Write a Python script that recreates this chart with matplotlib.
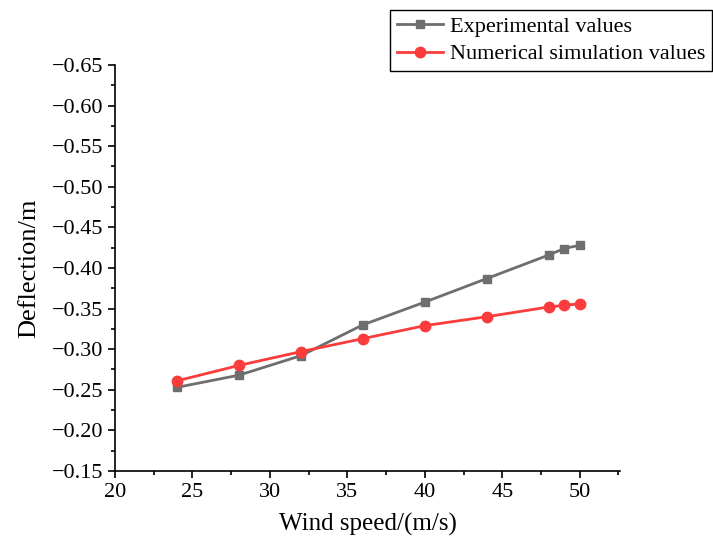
import matplotlib.pyplot as plt
from matplotlib.ticker import MultipleLocator

plt.rcParams['font.family'] = ['Liberation Serif', 'DejaVu Serif']

wind = [24, 28, 32, 36, 40, 44, 48, 49, 50]
experimental = [-0.253, -0.268, -0.292, -0.330, -0.358, -0.387, -0.416, -0.424, -0.428]
numerical = [-0.261, -0.280, -0.297, -0.313, -0.329, -0.340, -0.352, -0.354, -0.356]

fig = plt.figure(figsize=(7.13, 5.47), dpi=100)
ax = fig.add_axes([115 / 713, 1 - 471 / 547, 505 / 713, 406 / 547])

ax.plot(wind, experimental, color='#6e6e6e', lw=2, marker='s', ms=6, label='Experimental values')
ax.plot(wind, numerical, color='#fa3c3c', lw=2, marker='o', ms=7.5, label='Numerical simulation values')

ax.set_xlim(20, 52.6)
ax.set_ylim(-0.15, -0.65)
ax.xaxis.set_major_locator(MultipleLocator(5))
ax.xaxis.set_minor_locator(MultipleLocator(2.5))
ax.yaxis.set_major_locator(MultipleLocator(0.05))
ax.yaxis.set_minor_locator(MultipleLocator(0.025))
ax.yaxis.set_major_formatter(lambda v, p: f'{v:.2f}'.replace('-', '\u2212'))

for s in ['top', 'right']:
    ax.spines[s].set_visible(False)
for s in ['left', 'bottom']:
    ax.spines[s].set_linewidth(1.2)
ax.tick_params(which='major', direction='out', length=5, width=1.2, labelsize=16)
ax.tick_params(which='minor', direction='out', length=3, width=1.2)

ax.set_xlabel('Wind speed/(m/s)', fontsize=18, labelpad=8)
ax.set_ylabel('Deflection/m', fontsize=19, labelpad=8)

leg = fig.legend(loc='upper left', bbox_to_anchor=(390 / 713, 1 - 10 / 547), fontsize=16,
                 frameon=True, fancybox=False, edgecolor='black', framealpha=1,
                 handlelength=2.1, handletextpad=0.3, borderpad=0.3, labelspacing=0.3,
                 borderaxespad=0)
leg.get_frame().set_linewidth(1)

fig.savefig('out.png', dpi=100)
